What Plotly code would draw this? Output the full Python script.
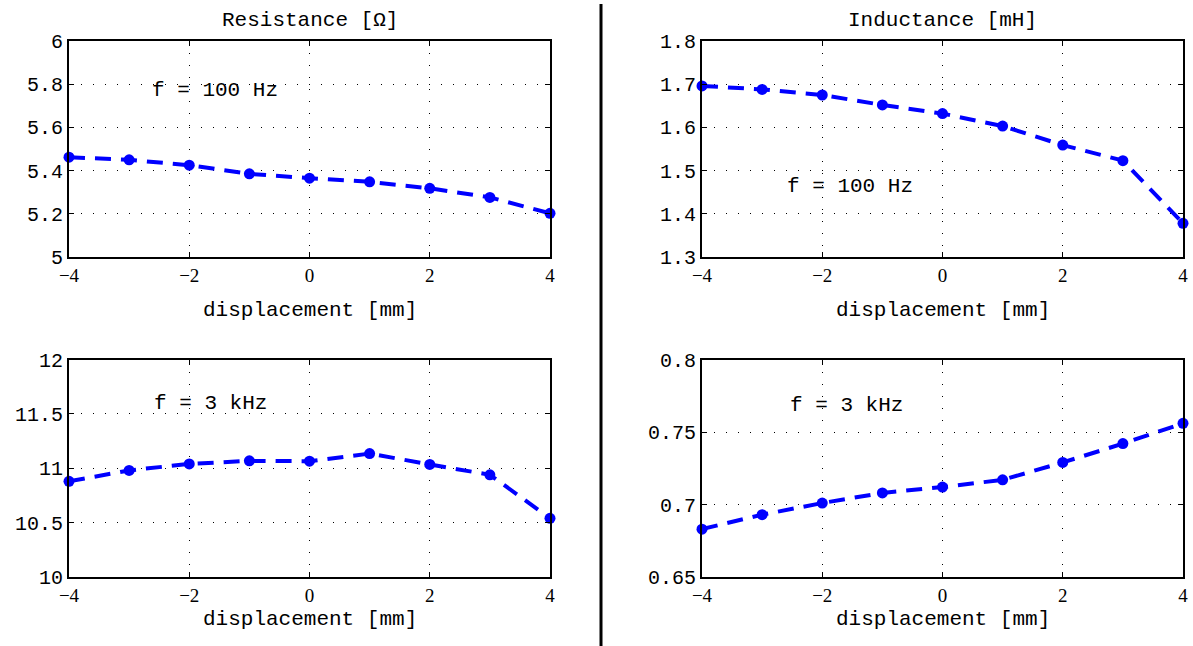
import plotly.graph_objects as go

displacement = [-4, -3, -2, -1, 0, 1, 2, 3, 4]
res_100hz = [5.462, 5.450, 5.425, 5.385, 5.365, 5.348, 5.318, 5.276, 5.202]
ind_100hz = [1.696, 1.688, 1.675, 1.652, 1.632, 1.603, 1.559, 1.523, 1.378]
res_3khz = [10.88, 10.98, 11.04, 11.068, 11.065, 11.135, 11.035, 10.94, 10.54]
ind_3khz = [0.683, 0.693, 0.701, 0.708, 0.712, 0.717, 0.729, 0.742, 0.756]

x_ticks = [-4, -2, 0, 2, 4]
y_ticks_res100 = [5, 5.2, 5.4, 5.6, 5.8, 6]
y_ticks_ind100 = [1.3, 1.4, 1.5, 1.6, 1.7, 1.8]
y_ticks_res3k = [10, 10.5, 11, 11.5, 12]
y_ticks_ind3k = [0.65, 0.7, 0.75, 0.8]

titles = ["Resistance [Ω]", "Inductance [mH]"]
xlabel = "displacement [mm]"
freq_labels = ["f = 100 Hz", "f = 100 Hz", "f = 3 kHz", "f = 3 kHz"]

W, H = 1193, 646
mono = "Liberation Mono"
serif = "Liberation Serif"

def px(x):
    return x / W

def py(y):
    return 1 - y / H

L1, R1 = 69, 550
L2, R2 = 702, 1183
T1, B1 = 41, 257
T2, B2 = 359.5, 577

fig = go.Figure()

panels = [
    dict(y=res_100hz, xa="x", ya="y", dom_x=(L1, R1), dom_y=(T1, B1), rng=[5, 6], ticks=y_ticks_res100),
    dict(y=ind_100hz, xa="x2", ya="y2", dom_x=(L2, R2), dom_y=(T1, B1), rng=[1.3, 1.8], ticks=y_ticks_ind100),
    dict(y=res_3khz, xa="x3", ya="y3", dom_x=(L1, R1), dom_y=(T2, B2), rng=[10, 12], ticks=y_ticks_res3k),
    dict(y=ind_3khz, xa="x4", ya="y4", dom_x=(L2, R2), dom_y=(T2, B2), rng=[0.65, 0.8], ticks=y_ticks_ind3k),
]

layout = {}
for i, p in enumerate(panels):
    fig.add_trace(go.Scatter(
        x=displacement, y=p["y"], xaxis=p["xa"], yaxis=p["ya"],
        mode="lines+markers",
        line=dict(color="#0000ff", width=4, dash="16px,10px"),
        marker=dict(color="#0000ff", size=11),
        cliponaxis=False, showlegend=False,
    ))
    sfx = "" if i == 0 else str(i + 1)
    common_axis = dict(
        showline=True, linecolor="black", linewidth=2, mirror="allticks",
        ticks="inside", ticklen=5, tickcolor="black", tickwidth=1,
        showgrid=True, gridcolor="black", gridwidth=1, griddash="1px,11px",
        zeroline=False, automargin=False,
    )
    layout["xaxis" + sfx] = dict(
        common_axis,
        domain=[px(p["dom_x"][0]), px(p["dom_x"][1])],
        range=[-4, 4], tickvals=x_ticks,
        tickfont=dict(family=serif, size=19, color="black"),
        anchor="y" + sfx,
    )
    layout["yaxis" + sfx] = dict(
        common_axis,
        domain=[py(p["dom_y"][1]), py(p["dom_y"][0])],
        range=p["rng"], tickvals=p["ticks"],
        ticktext=[("%g" % v) for v in p["ticks"]],
        tickfont=dict(family=mono, size=20, color="black"),
        anchor="x" + sfx,
    )

fig.update_layout(**layout)

annotations = []
for txt, (l, r) in zip(titles, [(L1, R1), (L2, R2)]):
    annotations.append(dict(text=txt, x=px((l + r) / 2), y=py(20), xref="paper", yref="paper",
                            showarrow=False, font=dict(family=mono, size=21, color="black"),
                            xanchor="center", yanchor="middle"))
for (l, r), yy in [((L1, R1), 310), ((L2, R2), 310), ((L1, R1), 619), ((L2, R2), 619)]:
    annotations.append(dict(text=xlabel, x=px((l + r) / 2), y=py(yy), xref="paper", yref="paper",
                            showarrow=False, font=dict(family=mono, size=21, color="black"),
                            xanchor="center", yanchor="middle"))
for txt, (xx, yy) in zip(freq_labels, [(215, 91), (850, 186), (210, 403), (846, 405)]):
    annotations.append(dict(text=txt, x=px(xx), y=py(yy), xref="paper", yref="paper",
                            showarrow=False, font=dict(family=mono, size=21, color="black"),
                            xanchor="center", yanchor="middle"))

fig.update_layout(
    width=W, height=H,
    margin=dict(l=0, r=0, t=0, b=0, autoexpand=False),
    paper_bgcolor="white", plot_bgcolor="white",
    annotations=annotations,
    shapes=[dict(type="line", xref="paper", yref="paper", x0=px(601), x1=px(601), y0=0, y1=py(4),
                 line=dict(color="black", width=3))],
)

fig.write_html("out.html")
